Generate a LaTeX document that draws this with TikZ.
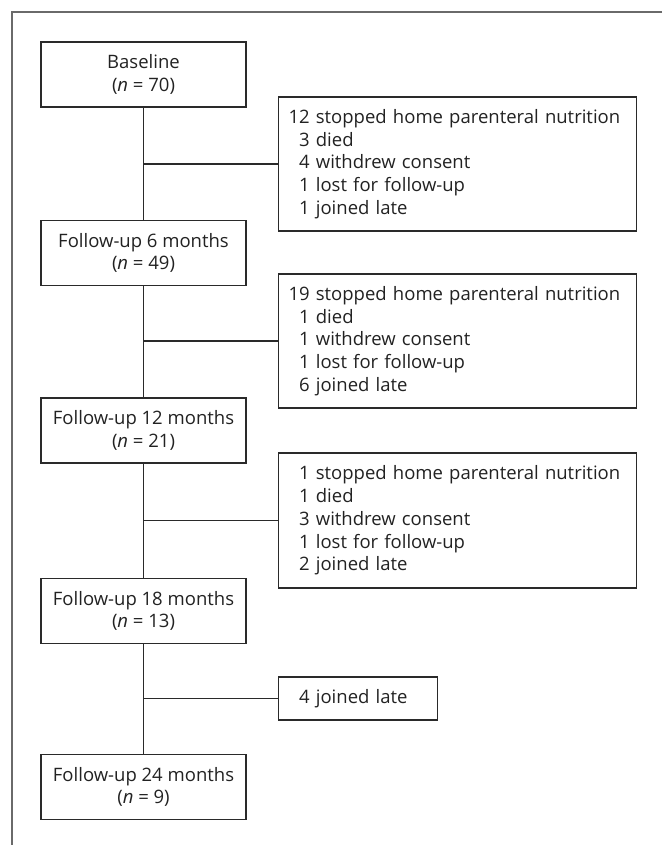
\documentclass[tikz,border=0pt]{standalone}
\usepackage{fontspec}
\setmainfont{Open Sans}
\definecolor{boxc}{HTML}{2A2A2A}
\definecolor{framec}{HTML}{6A6A6A}
\definecolor{txtc}{HTML}{222222}
\begin{document}
\begin{tikzpicture}[x=1pt,y=-1pt,
  every node/.style={font={\fontsize{18.5}{22.8}\selectfont}, text=txtc},
  stage/.style={draw=boxc, line width=1.1pt, minimum width=205pt, minimum height=65pt, inner sep=0pt, align=center},
  info/.style={draw=boxc, line width=1.1pt, anchor=west, inner xsep=10pt, inner ysep=0pt, align=left},
  link/.style={draw=boxc, line width=1.1pt}]
\useasboundingbox (0,0) rectangle (662,845);
\draw[framec, line width=1.2pt] (662,12) -- (12,12) -- (12,845);

\node[stage] (b0) at (143.5,74.5) {Baseline\\(\textit{n} = 70)};
\node[stage] (b1) at (143.5,253) {Follow-up 6 months\\(\textit{n} = 49)};
\node[stage] (b2) at (143.5,430.5) {Follow-up 12 months\\(\textit{n} = 21)};
\node[stage] (b3) at (143.5,611) {Follow-up 18 months\\(\textit{n} = 13)};
\node[stage] (b4) at (143.5,787) {Follow-up 24 months\\(\textit{n} = 9)};

\node[info, text width=338pt, minimum height=134pt] (r1) at (278,164)
  {12 stopped home parenteral nutrition\\\phantom{1}3 died\\\phantom{1}4 withdrew consent\\\phantom{1}1 lost for follow-up\\\phantom{1}1 joined late};
\node[info, text width=338pt, minimum height=134pt] (r2) at (278,341)
  {19 stopped home parenteral nutrition\\\phantom{1}1 died\\\phantom{1}1 withdrew consent\\\phantom{1}1 lost for follow-up\\\phantom{1}6 joined late};
\node[info, text width=338pt, minimum height=135pt] (r3) at (278,520.5)
  {\phantom{1}1 stopped home parenteral nutrition\\\phantom{1}1 died\\\phantom{1}3 withdrew consent\\\phantom{1}1 lost for follow-up\\\phantom{1}2 joined late};
\node[info, text width=139pt, minimum height=43pt] (r4) at (278,698.5)
  {\phantom{1}4 joined late};

\draw[link] (b0) -- (b1);
\draw[link] (b1) -- (b2);
\draw[link] (b2) -- (b3);
\draw[link] (b3) -- (b4);
\draw[link] (r1.west) -- (r1.west -| b0.south);
\draw[link] (r2.west) -- (r2.west -| b1.south);
\draw[link] (r3.west) -- (r3.west -| b2.south);
\draw[link] (r4.west) -- (r4.west -| b3.south);
\end{tikzpicture}
\end{document}
